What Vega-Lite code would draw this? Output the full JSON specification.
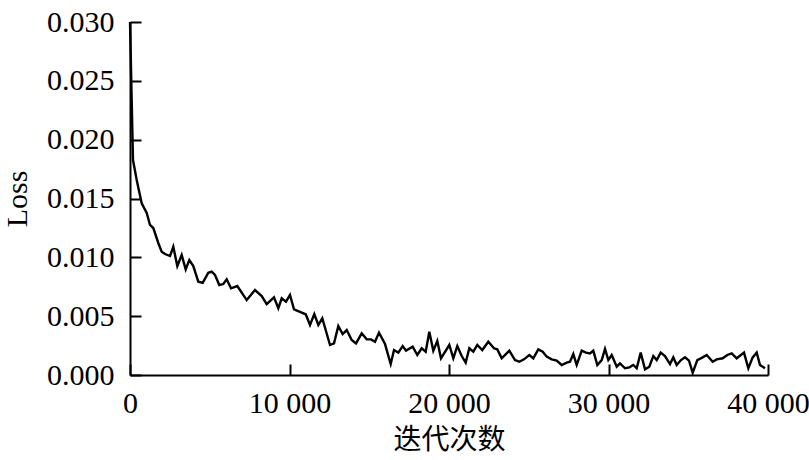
{
  "$schema": "https://vega.github.io/schema/vega-lite/v6.json",
  "width": 638,
  "height": 353,
  "autosize": {"type": "none"},
  "padding": {"left": 130, "top": 22, "right": 41, "bottom": 85},
  "background": "white",
  "config": {
    "view": {"stroke": null},
    "axis": {
      "grid": false,
      "domainColor": "black",
      "domainWidth": 2,
      "tickColor": "black",
      "tickWidth": 2,
      "tickSize": -11,
      "labelFont": "Liberation Serif",
      "labelFontSize": 30,
      "labelColor": "black",
      "titleColor": "black",
      "titleFontWeight": "normal"
    }
  },
  "data": {
    "values": [
      {"iter": 0, "loss": 0.0300},
      {"iter": 188, "loss": 0.01827},
      {"iter": 420, "loss": 0.01657},
      {"iter": 734, "loss": 0.01459},
      {"iter": 1047, "loss": 0.01377},
      {"iter": 1254, "loss": 0.01275},
      {"iter": 1461, "loss": 0.01249},
      {"iter": 1774, "loss": 0.01122},
      {"iter": 1987, "loss": 0.01048},
      {"iter": 2194, "loss": 0.01028},
      {"iter": 2508, "loss": 0.01011},
      {"iter": 2715, "loss": 0.01090},
      {"iter": 2966, "loss": 0.00926},
      {"iter": 3241, "loss": 0.01020},
      {"iter": 3492, "loss": 0.00898},
      {"iter": 3718, "loss": 0.00977},
      {"iter": 3969, "loss": 0.00926},
      {"iter": 4282, "loss": 0.00793},
      {"iter": 4558, "loss": 0.00784},
      {"iter": 4909, "loss": 0.00869},
      {"iter": 5122, "loss": 0.00878},
      {"iter": 5329, "loss": 0.00850},
      {"iter": 5599, "loss": 0.00765},
      {"iter": 5850, "loss": 0.00773},
      {"iter": 6063, "loss": 0.00813},
      {"iter": 6332, "loss": 0.00737},
      {"iter": 6727, "loss": 0.00756},
      {"iter": 7317, "loss": 0.00637},
      {"iter": 7837, "loss": 0.00722},
      {"iter": 8257, "loss": 0.00671},
      {"iter": 8571, "loss": 0.00603},
      {"iter": 9028, "loss": 0.00660},
      {"iter": 9298, "loss": 0.00567},
      {"iter": 9511, "loss": 0.00652},
      {"iter": 9781, "loss": 0.00623},
      {"iter": 10031, "loss": 0.00680},
      {"iter": 10282, "loss": 0.00558},
      {"iter": 10765, "loss": 0.00530},
      {"iter": 11016, "loss": 0.00516},
      {"iter": 11285, "loss": 0.00425},
      {"iter": 11555, "loss": 0.00518},
      {"iter": 11806, "loss": 0.00425},
      {"iter": 12056, "loss": 0.00482},
      {"iter": 12539, "loss": 0.00255},
      {"iter": 12790, "loss": 0.00269},
      {"iter": 13060, "loss": 0.00416},
      {"iter": 13336, "loss": 0.00348},
      {"iter": 13586, "loss": 0.00382},
      {"iter": 13900, "loss": 0.00297},
      {"iter": 14169, "loss": 0.00269},
      {"iter": 14527, "loss": 0.00354},
      {"iter": 14840, "loss": 0.00303},
      {"iter": 15110, "loss": 0.00303},
      {"iter": 15361, "loss": 0.00283},
      {"iter": 15611, "loss": 0.00360},
      {"iter": 15988, "loss": 0.00263},
      {"iter": 16345, "loss": 0.00093},
      {"iter": 16552, "loss": 0.00212},
      {"iter": 16822, "loss": 0.00190},
      {"iter": 17097, "loss": 0.00246},
      {"iter": 17304, "loss": 0.00207},
      {"iter": 17724, "loss": 0.00241},
      {"iter": 18012, "loss": 0.00170},
      {"iter": 18288, "loss": 0.00227},
      {"iter": 18539, "loss": 0.00198},
      {"iter": 18765, "loss": 0.00368},
      {"iter": 19016, "loss": 0.00207},
      {"iter": 19266, "loss": 0.00289},
      {"iter": 19498, "loss": 0.00142},
      {"iter": 20019, "loss": 0.00255},
      {"iter": 20270, "loss": 0.00142},
      {"iter": 20520, "loss": 0.00246},
      {"iter": 20796, "loss": 0.00161},
      {"iter": 21047, "loss": 0.00105},
      {"iter": 21273, "loss": 0.00227},
      {"iter": 21524, "loss": 0.00198},
      {"iter": 21774, "loss": 0.00255},
      {"iter": 22088, "loss": 0.00212},
      {"iter": 22464, "loss": 0.00283},
      {"iter": 22821, "loss": 0.00227},
      {"iter": 23028, "loss": 0.00218},
      {"iter": 23304, "loss": 0.00142},
      {"iter": 23780, "loss": 0.00207},
      {"iter": 24138, "loss": 0.00127},
      {"iter": 24407, "loss": 0.00113},
      {"iter": 24702, "loss": 0.00133},
      {"iter": 25035, "loss": 0.00170},
      {"iter": 25285, "loss": 0.00142},
      {"iter": 25599, "loss": 0.00218},
      {"iter": 25875, "loss": 0.00198},
      {"iter": 26125, "loss": 0.00156},
      {"iter": 26439, "loss": 0.00133},
      {"iter": 26752, "loss": 0.00122},
      {"iter": 27066, "loss": 0.00085},
      {"iter": 27379, "loss": 0.00105},
      {"iter": 27586, "loss": 0.00113},
      {"iter": 27793, "loss": 0.00178},
      {"iter": 28006, "loss": 0.00085},
      {"iter": 28320, "loss": 0.00207},
      {"iter": 28589, "loss": 0.00190},
      {"iter": 28840, "loss": 0.00184},
      {"iter": 29047, "loss": 0.00207},
      {"iter": 29298, "loss": 0.00085},
      {"iter": 29574, "loss": 0.00127},
      {"iter": 29781, "loss": 0.00221},
      {"iter": 29988, "loss": 0.00127},
      {"iter": 30201, "loss": 0.00170},
      {"iter": 30515, "loss": 0.00071},
      {"iter": 30721, "loss": 0.00099},
      {"iter": 31034, "loss": 0.00057},
      {"iter": 31304, "loss": 0.00065},
      {"iter": 31555, "loss": 0.00085},
      {"iter": 31768, "loss": 0.00057},
      {"iter": 32019, "loss": 0.00190},
      {"iter": 32288, "loss": 0.00048},
      {"iter": 32558, "loss": 0.00071},
      {"iter": 32809, "loss": 0.00161},
      {"iter": 33022, "loss": 0.00127},
      {"iter": 33273, "loss": 0.00190},
      {"iter": 33542, "loss": 0.00161},
      {"iter": 33856, "loss": 0.00093},
      {"iter": 34063, "loss": 0.00150},
      {"iter": 34276, "loss": 0.00085},
      {"iter": 34545, "loss": 0.00127},
      {"iter": 34796, "loss": 0.00150},
      {"iter": 35047, "loss": 0.00122},
      {"iter": 35279, "loss": 0.00020},
      {"iter": 35568, "loss": 0.00127},
      {"iter": 35906, "loss": 0.00150},
      {"iter": 36157, "loss": 0.00170},
      {"iter": 36533, "loss": 0.00113},
      {"iter": 36784, "loss": 0.00133},
      {"iter": 37160, "loss": 0.00142},
      {"iter": 37449, "loss": 0.00170},
      {"iter": 37724, "loss": 0.00184},
      {"iter": 38038, "loss": 0.00142},
      {"iter": 38496, "loss": 0.00190},
      {"iter": 38766, "loss": 0.00057},
      {"iter": 39041, "loss": 0.00150},
      {"iter": 39292, "loss": 0.00190},
      {"iter": 39499, "loss": 0.00085},
      {"iter": 39812, "loss": 0.00057}
    ]
  },
  "mark": {"type": "line", "color": "black", "strokeWidth": 2.4, "clip": false},
  "encoding": {
    "x": {
      "field": "iter",
      "type": "quantitative",
      "scale": {"domain": [0, 40000], "nice": false, "zero": true},
      "axis": {
        "values": [0, 10000, 20000, 30000, 40000],
        "labelExpr": "datum.value == 0 ? '0' : format(datum.value / 1000, 'd') + ' 000'",
        "labelPadding": 24,
        "labelFlush": false,
        "title": "迭代次数",
        "titleFont": "Noto Sans CJK SC",
        "titleFontSize": 28,
        "titlePadding": 8
      }
    },
    "y": {
      "field": "loss",
      "type": "quantitative",
      "scale": {"domain": [0, 0.03], "nice": false},
      "axis": {
        "values": [0, 0.005, 0.01, 0.015, 0.02, 0.025, 0.03],
        "format": ".3f",
        "labelPadding": 27,
        "labelFlush": false,
        "title": "Loss",
        "titleFont": "Liberation Serif",
        "titleFontSize": 30,
        "titlePadding": 14
      }
    }
  }
}
